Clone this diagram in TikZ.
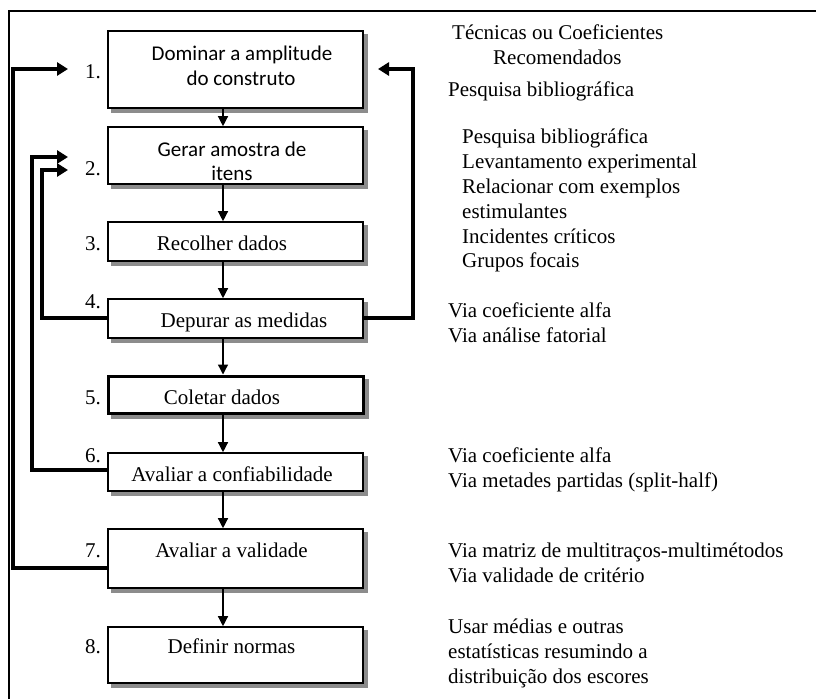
\documentclass[tikz,border=0pt]{standalone}
\usepackage{fontspec}
\setmainfont{Liberation Serif}
\newfontfamily\boxsans{Carlito}
\usetikzlibrary{arrows.meta,backgrounds}

\tikzset{
  stepbox/.style={draw=black, line width=1.6pt, fill=white, minimum width=255pt,
    inner sep=0pt},
  boxshadow/.style={fill=black!45},
  flow/.style={line width=1.3pt, -{Triangle[length=10pt,width=10pt]}},
  loopback/.style={line width=3.4pt, line join=miter, -{Triangle[length=11pt,width=13pt]}},
  num/.style={anchor=base east, inner sep=0pt, font=\fontsize{21}{25}\selectfont},
  lbl/.style={anchor=base, inner sep=0pt, font=\fontsize{21}{25}\selectfont},
  sanslbl/.style={anchor=base, inner sep=0pt, font=\boxsans\fontsize{21}{25}\selectfont},
  note/.style={anchor=base west, inner sep=0pt, font=\fontsize{21}{25}\selectfont},
}

\begin{document}
\begin{tikzpicture}[x=1pt,y=-1pt]
\useasboundingbox (0,0) rectangle (816,699);

% frame
\draw[line width=1.4pt] (9,699) -- (9,11) -- (816,11);

% process steps
\node[stepbox, minimum height=77pt] (b1) at (235.5,69.5) {};
\node[stepbox, minimum height=57pt] (b2) at (235.5,155.5) {};
\node[stepbox, minimum height=39pt] (b3) at (235.5,241.5) {};
\node[stepbox, minimum height=39pt] (b4) at (235.5,318.5) {};
\node[stepbox, minimum height=37pt, line width=3pt] (b5) at (235.5,394.5) {};
\node[stepbox, minimum height=38pt] (b6) at (235.5,472) {};
\node[stepbox, minimum height=59pt] (b7) at (235.5,558.5) {};
\node[stepbox, minimum height=56pt] (b8) at (235.5,655) {};

% shadows behind the steps
\begin{scope}[on background layer]
  \foreach \b in {b1,b2,b3,b4,b5,b6,b7,b8}
    \fill[boxshadow] ([shift={(4,4)}]\b.north west) rectangle ([shift={(4,4)}]\b.south east);
\end{scope}

% step texts
\node[sanslbl] (t1a) at (242,60) {Dominar a amplitude};
\node[sanslbl] (t1b) at (241,85) {do construto};
\node[sanslbl] (t2a) at (232,156) {Gerar amostra de};
\node[sanslbl] (t2b) at (232,180) {itens};
\node[lbl] (t3) at (222,250) {Recolher dados};
\node[lbl] (t4) at (244,327) {Depurar as medidas};
\node[lbl] (t5) at (222,404) {Coletar dados};
\node[lbl] (t6) at (232,481) {Avaliar a confiabilidade};
\node[lbl] (t7) at (231.5,557) {Avaliar a validade};
\node[lbl] (t8) at (231.5,653) {Definir normas};

% step numbers
\node[num] (n1) at (101,78) {1.};
\node[num] (n2) at (101,175) {2.};
\node[num] (n3) at (101,250) {3.};
\node[num] (n4) at (101,308) {4.};
\node[num] (n5) at (101,404) {5.};
\node[num] (n6) at (101,462) {6.};
\node[num] (n7) at (101,557) {7.};
\node[num] (n8) at (101,653) {8.};

% forward flow
\draw[flow] (b1.south -| 223,0) -- (b2.north -| 223,0);
\draw[flow] (b2.south -| 223,0) -- (b3.north -| 223,0);
\draw[flow] (b3.south -| 223,0) -- (b4.north -| 223,0);
\draw[flow] (b4.south -| 223,0) -- (b5.north -| 223,0);
\draw[flow] (b5.south -| 223,0) -- (b6.north -| 223,0);
\draw[flow] (b6.south -| 223,0) -- (b7.north -| 223,0);
\draw[flow] (b7.south -| 223,0) -- (b8.north -| 223,0);

% feedback loops
\coordinate (in1) at (68,69);
\coordinate (in1r) at (378,69);
\coordinate (in2a) at (68,157);
\coordinate (in2b) at (68,170);
\draw[loopback] (b7.west |- 0,568) -| (13,69) -- (in1);
\draw[loopback] (b6.west |- 0,470) -| (32,157) -- (in2a);
\draw[loopback] (b4.west |- 0,318) -| (42,170) -- (in2b);
\draw[loopback] (b4.east |- 0,318) -| (413,69) -- (in1r);

% recommended techniques
\foreach \x/\y/\t [count=\i] in {
  452/39/Técnicas ou Coeficientes,
  493/64/Recomendados,
  448/96/Pesquisa bibliográfica,
  462/143/Pesquisa bibliográfica,
  462/168/Levantamento experimental,
  462/193/Relacionar com exemplos,
  462/218/estimulantes,
  462/243/Incidentes críticos,
  462/267/Grupos focais,
  448/317/Via coeficiente alfa,
  448/342/Via análise fatorial,
  448/462/Via coeficiente alfa,
  448/487/Via metades partidas (split-half),
  448/557/Via matriz de multitraços-multimétodos,
  448/582/Via validade de critério,
  448/633/Usar médias e outras,
  448/658/estatísticas resumindo a,
  448/683/distribuição dos escores}
  \node[note] (r\i) at (\x,\y) {\t};
\end{tikzpicture}
\end{document}
